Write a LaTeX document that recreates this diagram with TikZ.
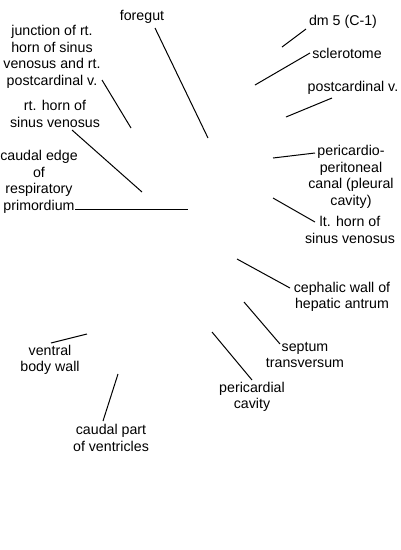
\documentclass[tikz,border=0pt]{standalone}
\usepackage{fontspec}
\setmainfont{Liberation Sans}
\usepackage{tikz}
\begin{document}
\begin{tikzpicture}[x=1pt,y=-1pt,
  lbl/.style={align=center,inner sep=0pt,font=\fontsize{14.2}{16.6}\selectfont},
  ptr/.style={line width=1pt}]
\useasboundingbox (0,0) rectangle (400,550);
\node[lbl] (foregut) at (142,17) {foregut};
\node[lbl] (junction) at (52,57) {junction of rt.\\horn of sinus\\venosus and rt.\\postcardinal v.};
\node[lbl] (rthorn) at (55,114) {rt. horn of\\sinus venosus};
\node[lbl] (caudedge) at (39,182) {caudal edge\\of\\respiratory\\primordium};
\node[lbl] (dm) at (343,22) {dm 5 (C-1)};
\node[lbl] (sclero) at (347,53) {sclerotome};
\node[lbl] (postcard) at (353,88) {postcardinal v.};
\node[lbl] (pericanal) at (351,177) {pericardio-\\peritoneal\\canal (pleural\\cavity)};
\node[lbl] (lthorn) at (350,230) {lt. horn of\\sinus venosus};
\node[lbl] (cephwall) at (342,297) {cephalic wall of\\hepatic antrum};
\node[lbl] (septum) at (305,355) {septum\\transversum};
\node[lbl] (pericav) at (252,397) {pericardial\\cavity};
\node[lbl] (ventral) at (50,360) {ventral\\body wall};
\node[lbl] (ventricles) at (111,438) {caudal part\\of ventricles};

\coordinate (foregut-a) at (155,28);
\coordinate (foregut-b) at (208,138);
\coordinate (junction-a) at (102,80);
\coordinate (junction-b) at (131,128);
\coordinate (rthorn-a) at (72,130);
\coordinate (rthorn-b) at (142,192);
\coordinate (caudedge-a) at (75,209);
\coordinate (caudedge-b) at (188,209);
\coordinate (dm-a) at (306,29);
\coordinate (dm-b) at (282,47);
\coordinate (sclero-a) at (310,53);
\coordinate (sclero-b) at (255,85);
\coordinate (postcard-a) at (332,98);
\coordinate (postcard-b) at (286,117);
\coordinate (pericanal-a) at (315,153);
\coordinate (pericanal-b) at (273,158);
\coordinate (lthorn-a) at (315,222);
\coordinate (lthorn-b) at (273,198);
\coordinate (cephwall-a) at (290,288);
\coordinate (cephwall-b) at (237,259);
\coordinate (septum-a) at (280,344);
\coordinate (septum-b) at (244,302);
\coordinate (pericav-a) at (252,380);
\coordinate (pericav-b) at (212,332);
\coordinate (ventral-a) at (51,343);
\coordinate (ventral-b) at (87,334);
\coordinate (ventricles-a) at (103,421);
\coordinate (ventricles-b) at (118,374);

\foreach \n in {foregut,junction,rthorn,caudedge,dm,sclero,postcard,pericanal,lthorn,cephwall,septum,pericav,ventral,ventricles}
  \draw[ptr] (\n-a) -- (\n-b);
\end{tikzpicture}
\end{document}
